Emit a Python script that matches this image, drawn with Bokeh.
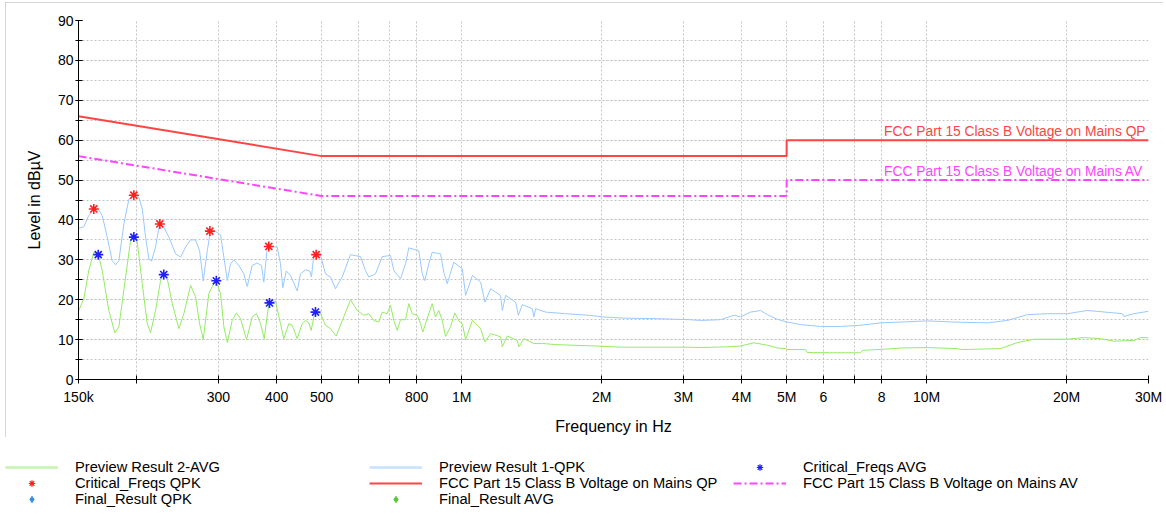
from bokeh.plotting import figure
from bokeh.models import (Range1d, FixedTicker, SingleIntervalTicker, Legend, LegendItem, Label)
from bokeh.layouts import column
from bokeh.embed import file_html
from bokeh.resources import INLINE

# ---------------- data (frequency in MHz, level in dBµV) ----------------
qpk_f = [0.1500, 0.1540, 0.1578, 0.1618, 0.1659, 0.1687, 0.1729, 0.1772, 0.1802, 0.1832,
         0.1878, 0.1925, 0.1973, 0.2022, 0.2057, 0.2091, 0.2125, 0.2153, 0.2197, 0.2241,
         0.2288, 0.2347, 0.2426, 0.2487, 0.2548, 0.2613, 0.2678, 0.2732, 0.2782, 0.2838,
         0.2884, 0.2957, 0.3031, 0.3081, 0.3134, 0.3185, 0.3237, 0.3318, 0.3401, 0.3459,
         0.3545, 0.3634, 0.3712, 0.3755, 0.3818, 0.3849, 0.4012, 0.4078, 0.4126, 0.4196,
         0.4285, 0.4430, 0.4503, 0.4616, 0.4715, 0.4754, 0.4809, 0.4972, 0.5096, 0.5224,
         0.5355, 0.5535, 0.5768, 0.6061, 0.6212, 0.6315, 0.6528, 0.6749, 0.7031, 0.7148,
         0.7389, 0.7574, 0.7699, 0.8089, 0.8227, 0.8334, 0.8500, 0.8644, 0.9007, 0.9156,
         0.9311, 0.9620, 1.0035, 1.0200, 1.0547, 1.0986, 1.1222, 1.1545, 1.2129, 1.2232,
         1.2435, 1.3066, 1.3242, 1.3507, 1.4193, 1.4306, 1.4427, 1.516, 1.674, 1.878,
         2.007, 2.216, 2.614, 3.083, 3.266, 3.606, 3.852, 3.981, 4.183, 4.395,
         4.544, 4.774, 5.017, 5.358, 5.916, 6.532, 7.212, 7.963, 8.792, 10.03,
         11.45, 13.51, 14.91, 16.47, 18.18, 20.07, 22.16, 25.28, 26.35, 26.56,
         27.91, 30.0]
qpk_db = [37.9, 38.3, 41.1, 42.75, 42.5, 41.1, 35.7, 29.8, 28.75, 29.8,
          39.0, 45.25, 46.25, 45.7, 42.75, 35.7, 30.25, 29.7, 33.2, 39.0,
          38.2, 35.7, 31.5, 30.7, 33.2, 35.0, 35.0, 32.3, 24.7, 32.3,
          37.3, 37.1, 36.3, 30.7, 24.8, 29.0, 30.0, 28.6, 26.5, 23.3,
          28.6, 29.2, 28.6, 24.4, 32.75, 33.4, 33.2, 29.0, 23.0, 27.2,
          26.1, 22.2, 26.5, 27.5, 27.2, 25.7, 31.1, 31.1, 26.5, 25.7,
          22.75, 25.7, 31.3, 30.8, 27.3, 25.7, 26.5, 30.8, 31.1, 27.3,
          25.25, 29.0, 33.0, 32.3, 26.5, 24.8, 29.0, 31.9, 31.5, 26.9,
          24.0, 29.4, 27.75, 21.1, 26.1, 24.4, 19.4, 22.75, 21.1, 17.3,
          21.1, 19.4, 16.1, 18.75, 17.75, 15.7, 17.75, 16.9, 16.5, 16.1,
          15.7, 15.4, 15.25, 15.0, 14.8, 15.0, 16.1, 15.7, 16.9, 17.3,
          16.25, 15.1, 14.4, 13.75, 13.3, 13.3, 13.6, 14.2, 14.4, 14.7,
          14.4, 14.2, 14.8, 16.25, 16.5, 16.5, 17.3, 16.7, 16.5, 15.8,
          16.5, 17.1]

avg_f = [0.1502, 0.1540, 0.1578, 0.1618, 0.1654, 0.1687, 0.1743, 0.1796, 0.1832, 0.1894,
         0.1941, 0.1973, 0.2007, 0.2057, 0.2108, 0.2143, 0.2197, 0.2252, 0.2288, 0.2328,
         0.2387, 0.2466, 0.2527, 0.2613, 0.2678, 0.2732, 0.2782, 0.2860, 0.2957, 0.3031,
         0.3081, 0.3134, 0.3211, 0.3276, 0.3346, 0.3447, 0.3545, 0.3622, 0.3694, 0.3762,
         0.3849, 0.3978, 0.4078, 0.4146, 0.4249, 0.4322, 0.4430, 0.4541, 0.4616, 0.4692,
         0.4747, 0.4833, 0.4972, 0.5096, 0.5224, 0.5374, 0.5579, 0.5768, 0.5963, 0.6160,
         0.6315, 0.6474, 0.6636, 0.6749, 0.6917, 0.7031, 0.7148, 0.7269, 0.7389, 0.7574,
         0.7699, 0.7829, 0.8025, 0.8158, 0.8251, 0.8500, 0.8644, 0.8787, 0.8931, 0.9084,
         0.9234, 0.9465, 0.9668, 0.9862, 1.0035, 1.0200, 1.0547, 1.0986, 1.1222, 1.1545,
         1.2129, 1.2232, 1.2541, 1.3176, 1.3281, 1.3614, 1.4306, 1.5033, 1.593, 1.730,
         1.942, 2.216, 2.614, 3.083, 3.266, 3.728, 3.981, 4.253, 4.544, 4.774,
         4.975, 5.017, 5.493, 5.539, 6.319, 7.212, 7.273, 8.505, 8.792, 10.03,
         11.64, 11.84, 14.43, 15.67, 17.01, 20.07, 21.79, 23.67, 25.28, 27.91,
         28.86, 30.0]
avg_db = [17.3, 20.25, 27.3, 31.9, 31.5, 27.3, 17.3, 11.7, 13.2, 25.7,
          34.8, 36.1, 34.4, 24.0, 14.0, 11.75, 17.3, 24.8, 26.7, 25.25,
          19.0, 12.75, 16.5, 23.6, 20.7, 14.0, 10.1, 21.5, 25.0, 21.5,
          13.2, 9.25, 14.8, 16.7, 15.25, 10.0, 15.7, 16.5, 14.0, 10.25,
          19.0, 19.7, 14.0, 10.25, 14.0, 13.6, 10.25, 14.0, 14.8, 14.2,
          12.3, 16.9, 16.5, 13.6, 12.75, 10.9, 15.7, 20.0, 17.3, 16.1,
          16.5, 14.8, 14.4, 16.9, 16.5, 18.6, 14.8, 12.3, 15.0, 15.0,
          19.0, 16.5, 16.1, 14.0, 11.9, 16.5, 19.0, 15.7, 17.3, 14.8,
          10.8, 13.2, 16.7, 14.7, 14.0, 10.0, 14.8, 12.75, 9.4, 11.5,
          10.7, 8.2, 10.9, 9.8, 8.2, 10.25, 9.0, 9.0, 8.75, 8.6,
          8.4, 8.1, 8.1, 8.1, 8.0, 8.2, 8.4, 9.2, 8.6, 7.9,
          7.75, 7.5, 7.5, 6.75, 6.7, 6.7, 7.3, 7.75, 7.9, 8.0,
          7.75, 7.5, 7.75, 9.25, 10.1, 10.1, 10.5, 10.25, 9.6, 9.8,
          10.5, 10.5]

lim_f = [0.15, 0.5, 5.0, 5.0, 30.0]
lim_qp = [66.0, 56.0, 56.0, 60.0, 60.0]
lim_av = [56.0, 46.0, 46.0, 50.0, 50.0]

crit_qpk_f = [0.1618, 0.1973, 0.2244, 0.2875, 0.3849, 0.4867]
crit_qpk_db = [42.75, 46.2, 39.0, 37.2, 33.35, 31.3]
crit_avg_f = [0.1654, 0.1973, 0.2288, 0.2968, 0.3862, 0.4850]
crit_avg_db = [31.3, 35.7, 26.3, 24.75, 19.2, 16.9]

# final results: none visible on the chart (only listed in the legend)
final_qpk_f, final_qpk_db = [], []
final_avg_f, final_avg_db = [], []

x_ticks = [0.15, 0.2, 0.3, 0.4, 0.5, 0.6, 0.7, 0.8, 1.0, 2.0, 3.0, 4.0, 5.0, 6.0, 7.0, 8.0,
           10.0, 20.0, 30.0]
x_tick_labels = ["150k", "", "300", "400", "500", "", "", "800", "1M", "2M", "3M", "4M",
                 "5M", "6", "", "8", "10M", "20M", "30M"]

labels_legend = ["Preview Result 2-AVG", "Preview Result 1-QPK", "Critical_Freqs AVG",
                 "Critical_Freqs QPK", "FCC Part 15 Class B Voltage on Mains QP",
                 "FCC Part 15 Class B Voltage on Mains AV",
                 "Final_Result QPK", "Final_Result AVG"]

# ---------------- styling ----------------
FONT = "Liberation Sans"
C_QPK = "#99c9ff"
C_AVG = "#94ec62"
C_QP = "#ff4444"
C_AV = "#ff44ff"
C_GRID = "#c4c4c4"
C_FQ = "#3b8fe0"
C_FA = "#55cc33"
AV_DASH = "8 3 2 3"

p = figure(width=1158, height=435, x_axis_type="log",
           x_range=Range1d(0.15, 30.0), y_range=Range1d(0, 90),
           output_backend="svg", toolbar_location=None,
           min_border_left=73, min_border_right=15, min_border_top=18, min_border_bottom=56,
           outline_line_color=None, background_fill_color="white", border_fill_color="white",
           margin=(2, 3, 0, 5),
           styles={"outline": "1px solid #c8c8c8", "outline-offset": "-1px"})

p.line(avg_f, avg_db, line_color=C_AVG, line_width=1)
p.line(qpk_f, qpk_db, line_color=C_QPK, line_width=1)
p.line(lim_f, lim_qp, line_color=C_QP, line_width=2)
p.line(lim_f, lim_av, line_color=C_AV, line_width=2, line_dash=AV_DASH)
p.scatter(final_qpk_f, final_qpk_db, marker="diamond", size=10, fill_color=C_FQ, line_color=C_FQ)
p.scatter(final_avg_f, final_avg_db, marker="diamond", size=10, fill_color=C_FA, line_color=C_FA)
p.scatter(crit_qpk_f, crit_qpk_db, marker="asterisk", size=10, line_color="#ff2020",
          line_width=1.6)
p.scatter(crit_avg_f, crit_avg_db, marker="asterisk", size=10, line_color="#2020ff",
          line_width=1.6)

p.add_layout(Label(x=8.1, y=60, text="FCC Part 15 Class B Voltage on Mains QP",
                   text_color=C_QP, text_font=FONT, text_font_size="13.8px",
                   text_baseline="alphabetic", y_offset=9))
p.add_layout(Label(x=8.1, y=50, text="FCC Part 15 Class B Voltage on Mains AV",
                   text_color=C_AV, text_font=FONT, text_font_size="13.8px",
                   text_baseline="alphabetic", y_offset=9))

xa = p.xaxis[0]
xa.ticker = FixedTicker(ticks=x_ticks)
xa.major_label_overrides = dict(zip(x_ticks, x_tick_labels))
xa.minor_tick_line_color = None
xa.major_tick_in = 4
xa.major_tick_out = 4
xa.major_label_standoff = 5
xa.axis_label = "Frequency in Hz"
xa.axis_label_standoff = 10

ya = p.yaxis[0]
ya.ticker = SingleIntervalTicker(interval=10, num_minor_ticks=2)
ya.major_tick_in = 4
ya.major_tick_out = 3
ya.minor_tick_in = 4
ya.minor_tick_out = 3
ya.major_label_standoff = 2
ya.axis_label = "Level in dBµV"
ya.axis_label_standoff = 12

for ax in (xa, ya):
    ax.axis_line_color = "black"
    ax.major_tick_line_color = "black"
    ax.major_label_text_font = FONT
    ax.major_label_text_font_size = "14px"
    ax.major_label_text_color = "black"
    ax.axis_label_text_font = FONT
    ax.axis_label_text_font_size = "16px"
    ax.axis_label_text_font_style = "normal"
    ax.axis_label_text_color = "black"
ya.minor_tick_line_color = "black"

p.xgrid.ticker = FixedTicker(ticks=x_ticks)
p.xgrid.grid_line_color = C_GRID
p.xgrid.grid_line_dash = "2 2"
p.ygrid.grid_line_color = C_GRID
p.ygrid.grid_line_dash = "2 2"
p.ygrid.minor_grid_line_color = C_GRID
p.ygrid.minor_grid_line_dash = "2 2"

# ---------------- legend strip below the chart box ----------------
# the legend needs renderers of its own plot; they reuse the series arrays but the
# view ranges are chosen so that nothing of them is visible here.
lg = figure(width=1166, height=76, output_backend="svg", toolbar_location=None,
            x_axis_location=None, y_axis_location=None, min_border=0,
            x_range=Range1d(-2, -1), y_range=Range1d(-2, -1),
            outline_line_color=None)
lg.grid.visible = False
g_avg = lg.line(avg_f, avg_db, line_color="#c4f4b0", line_width=2.5)
g_qpk = lg.line(qpk_f, qpk_db, line_color="#c6e2ff", line_width=2.5)
g_cavg = lg.scatter(crit_avg_f, crit_avg_db, marker="asterisk", size=8, line_color="#2020ff",
                    line_width=1.2)
g_cqpk = lg.scatter(crit_qpk_f, crit_qpk_db, marker="asterisk", size=8, line_color="#ff2020",
                    line_width=1.2)
g_qp = lg.line(lim_f, lim_qp, line_color=C_QP, line_width=2)
g_av = lg.line(lim_f, lim_av, line_color=C_AV, line_width=2, line_dash=AV_DASH)
g_fq = lg.scatter(crit_qpk_f, crit_qpk_db, marker="diamond", size=10, fill_color=C_FQ,
                  line_color=C_FQ)
g_fa = lg.scatter(crit_avg_f, crit_avg_db, marker="diamond", size=10, fill_color=C_FA,
                  line_color=C_FA)
rends = [g_avg, g_qpk, g_cavg, g_cqpk, g_qp, g_av, g_fq, g_fa]

# do not align the legend strip's frame with the chart frame
if "frame_align" in lg.properties():
    lg.frame_align = False
    p.frame_align = False
    legend_loc = (5, 6)
else:
    legend_loc = (-68, 6)

legend = Legend(items=[LegendItem(label=t, renderers=[r]) for t, r in zip(labels_legend, rends)],
                location=legend_loc, orientation="horizontal", ncols=3,
                glyph_width=53, glyph_height=16, label_height=16, label_width=294,
                label_standoff=17, spacing=0, padding=0, margin=0,
                border_line_color=None, background_fill_alpha=0,
                label_text_font=FONT, label_text_font_size="14.7px",
                label_text_color="black")
lg.add_layout(legend)

layout = column(p, lg)
open("out.html", "w").write(file_html(layout, INLINE, title="EMI scan"))
